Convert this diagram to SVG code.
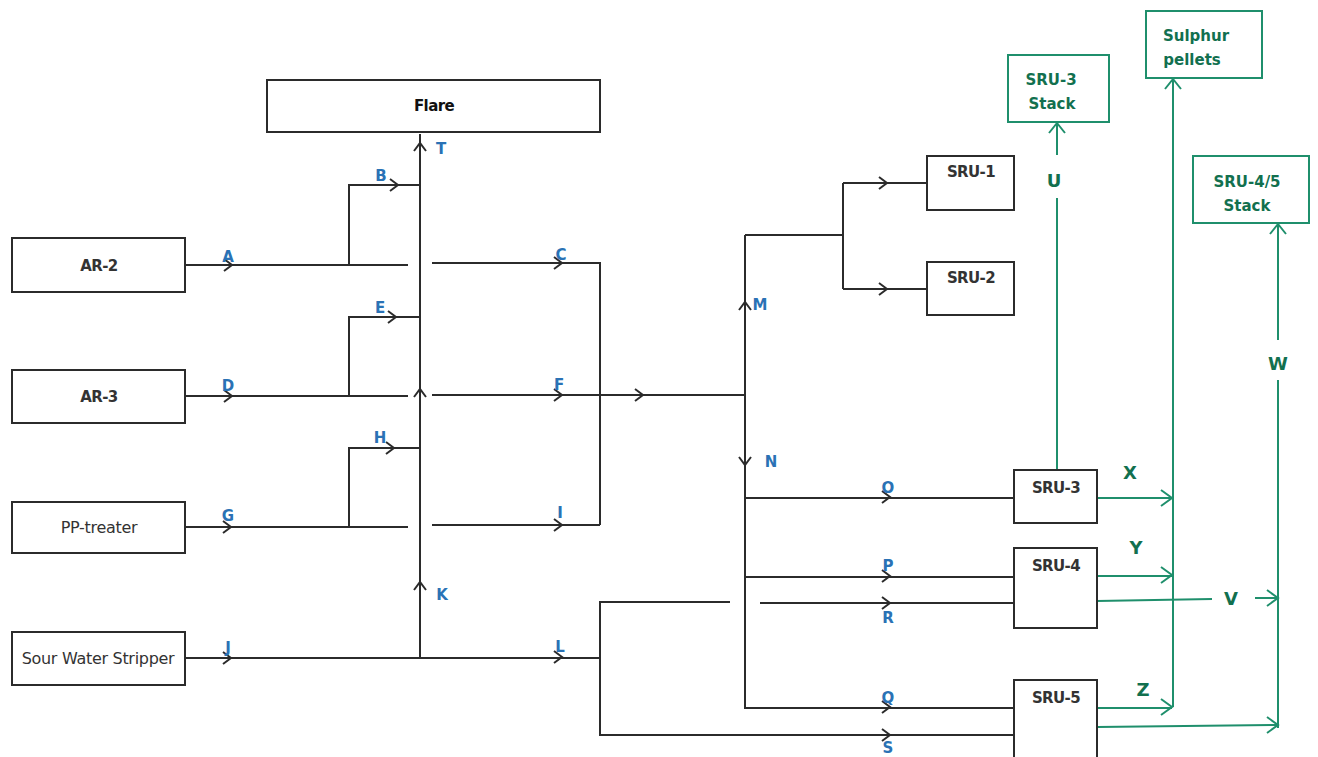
<svg xmlns="http://www.w3.org/2000/svg" width="1318" height="757" viewBox="0 0 1318 757">
<style>
.box{fill:#fff;stroke:#2b2b2b;stroke-width:2}
.gbox{fill:#fff;stroke:#1f8f6c;stroke-width:2}
.bt{font-family:"DejaVu Sans","Liberation Sans",sans-serif;font-size:15px;font-weight:bold;fill:#333;text-anchor:middle;letter-spacing:-0.6px}
.nt{font-family:"DejaVu Sans","Liberation Sans",sans-serif;font-size:16px;fill:#333;text-anchor:middle;letter-spacing:-0.3px}
.gt{font-family:"DejaVu Sans","Liberation Sans",sans-serif;font-size:15px;font-weight:bold;fill:#12704f;text-anchor:middle}
.lb{font-family:"DejaVu Sans","Liberation Sans",sans-serif;font-size:15px;font-weight:bold;fill:#2a72b5;text-anchor:middle}
.lg{font-family:"DejaVu Sans","Liberation Sans",sans-serif;font-size:18px;font-weight:bold;fill:#12704f;text-anchor:middle}
.ln{fill:none;stroke:#2b2b2b;stroke-width:2}
.lng{fill:none;stroke:#1f8f6c;stroke-width:2}
</style>
<rect width="1318" height="757" fill="#fff"/>
<g id="connectors">
<path class="ln" d="M420,658 V134"/>
<path class="ln" d="M185,265 H408 M432,263 H600 V525"/>
<path class="ln" d="M349,265 V185 H420"/>
<path class="ln" d="M185,396 H408 M432,395 H745"/>
<path class="ln" d="M349,396 V317 H420"/>
<path class="ln" d="M185,527 H408 M432,525 H600"/>
<path class="ln" d="M349,527 V448 H420"/>
<path class="ln" d="M185,658 H600"/>
<path class="ln" d="M730,602 H600 V735 H1014"/>
<path class="ln" d="M760,603 H1014"/>
<path class="ln" d="M745,235 V708 H1014"/>
<path class="ln" d="M745,235 H843 M843,183 V289 M843,183 H927 M843,289 H927"/>
<path class="ln" d="M745,498 H1014 M745,577 H1014"/>
<path class="ln" d="M224,259 L232,265 L224,271 M554,257 L562,263 L554,269 M390,179 L398,185 L390,191 M388,311 L396,317 L388,323 M224,390 L232,396 L224,402 M554,389 L562,395 L554,401 M386,442 L394,448 L386,454 M223,521 L231,527 L223,533 M554,519 L562,525 L554,531 M223,652 L231,658 L223,664 M554,651 L562,657 L554,663 M635,389 L643,395 L635,401"/>
<path class="ln" d="M414,151 L420,143 L426,151 M414,397 L420,389 L426,397 M414,590 L420,582 L426,590 M739,310 L745,302 L751,310 M739,457 L745,465 L751,457"/>
<path class="ln" d="M879,177 L887,183 L879,189 M879,283 L887,289 L879,295 M882,491 L890,497 L882,503 M882,570 L890,576 L882,582 M882,597 L890,603 L882,609 M882,701 L890,707 L882,713 M882,729 L890,735 L882,741"/>
<path class="lng" d="M1057,470 V198 M1057,155 V123"/>
<path class="lng" d="M1173,707 V79"/>
<path class="lng" d="M1278,728 V380 M1278,340 V224"/>
<path class="lng" d="M1097,498 H1172 M1097,576 H1172 M1097,708 H1172 M1097,601 L1212,599 M1255,598 H1277 M1097,727 L1277,725"/>
<path class="lng" d="M1049,133 L1057,123 L1065,133 M1165,89 L1173,79 L1181,89 M1270,234 L1278,224 L1286,234 M1161,490 L1172,498 L1161,506 M1161,567 L1172,575 L1161,583 M1161,699 L1172,707 L1161,715 M1267,590 L1278,598 L1267,606 M1267,717 L1278,725 L1267,733"/>
</g>
<g id="labels">
<text class="lb" x="228" y="262">A</text>
<text class="lb" x="381" y="181">B</text>
<text class="lb" x="561" y="260">C</text>
<text class="lb" x="441" y="154">T</text>
<text class="lb" x="380" y="313">E</text>
<text class="lb" x="228" y="391">D</text>
<text class="lb" x="559" y="390">F</text>
<text class="lb" x="380" y="443">H</text>
<text class="lb" x="228" y="521">G</text>
<text class="lb" x="560" y="518">I</text>
<text class="lb" x="442" y="600">K</text>
<text class="lb" x="228" y="653">J</text>
<text class="lb" x="560" y="652">L</text>
<text class="lb" x="760" y="310">M</text>
<text class="lb" x="771" y="467">N</text>
<text class="lb" x="888" y="493">O</text>
<text class="lb" x="888" y="571">P</text>
<text class="lb" x="888" y="623">R</text>
<text class="lb" x="888" y="703">Q</text>
<text class="lb" x="888" y="753">S</text>
<text class="lg" x="1054" y="187">U</text>
<text class="lg" x="1130" y="479">X</text>
<text class="lg" x="1136" y="554">Y</text>
<text class="lg" x="1143" y="696">Z</text>
<text class="lg" x="1231" y="605">V</text>
<text class="lg" x="1278" y="370">W</text>
</g>
<g id="flare"><rect class="box" x="267" y="80" width="333" height="52"/><text class="bt" x="434" y="111" style="fill:#111">Flare</text></g>
<g id="ar2"><rect class="box" x="12" y="238" width="173" height="54"/><text class="bt" x="99" y="271">AR-2</text></g>
<g id="ar3"><rect class="box" x="12" y="370" width="173" height="53"/><text class="bt" x="99" y="402">AR-3</text></g>
<g id="pptreater"><rect class="box" x="12" y="502" width="173" height="51"/><text class="nt" x="99" y="533">PP-treater</text></g>
<g id="sws"><rect class="box" x="12" y="632" width="173" height="53"/><text class="nt" x="98" y="664">Sour Water Stripper</text></g>
<g id="sru1"><rect class="box" x="927" y="156" width="87" height="54"/><text class="bt" x="971" y="177">SRU-1</text></g>
<g id="sru2"><rect class="box" x="927" y="262" width="87" height="53"/><text class="bt" x="971" y="283">SRU-2</text></g>
<g id="sru3"><rect class="box" x="1014" y="470" width="83" height="53"/><text class="bt" x="1056" y="493">SRU-3</text></g>
<g id="sru4"><rect class="box" x="1014" y="548" width="83" height="80"/><text class="bt" x="1056" y="571">SRU-4</text></g>
<g id="sru5"><rect class="box" x="1014" y="680" width="83" height="80"/><text class="bt" x="1056" y="703">SRU-5</text></g>
<g id="sru3stack"><rect class="gbox" x="1008" y="55" width="101" height="67"/><text class="gt" x="1051" y="85">SRU-3</text><text class="gt" x="1052" y="109">Stack</text></g>
<g id="sulphur"><rect class="gbox" x="1146" y="11" width="116" height="67"/><text class="gt" x="1196" y="41">Sulphur</text><text class="gt" x="1192" y="65">pellets</text></g>
<g id="sru45stack"><rect class="gbox" x="1193" y="156" width="116" height="67"/><text class="gt" x="1247" y="187">SRU-4/5</text><text class="gt" x="1247" y="211">Stack</text></g>
</svg>
